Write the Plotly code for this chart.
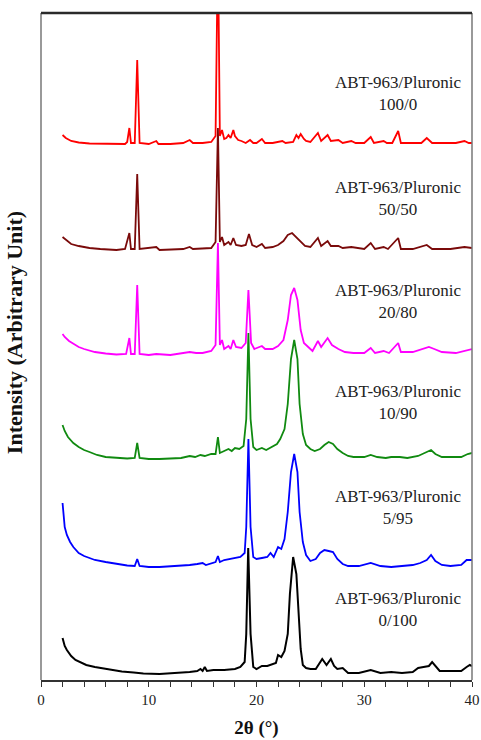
import plotly.graph_objects as go

# ---------------- data (intensity above each pattern's own baseline, arbitrary units) ----------------
labels = ["ABT-963/Pluronic<br>0/100", "ABT-963/Pluronic<br>5/95", "ABT-963/Pluronic<br>10/90",
          "ABT-963/Pluronic<br>20/80", "ABT-963/Pluronic<br>50/50", "ABT-963/Pluronic<br>100/0"]

x_0_100 = [2.0, 2.2, 2.4, 2.8, 3.2, 3.6, 4.2, 5.0, 5.5, 6.5, 7.5, 8.6, 9.5, 11, 12.0, 13.0, 13.8, 14.5, 14.8, 15.0,
           15.2, 15.4, 16.0, 17.0, 18.0, 18.5, 18.9, 19.05, 19.23, 19.45, 19.7, 20.0, 20.5, 21.0, 21.3, 21.8, 22.0,
           22.3, 22.6, 22.9, 23.1, 23.4, 23.7, 23.9, 24.1, 24.3, 24.6, 25.0, 25.5, 26.1, 26.4, 26.5, 26.9, 27.2, 27.5,
           28.0, 28.5, 29.5, 30.6, 31.5, 32.5, 33.5, 34.5, 35.0, 35.5, 36.0, 36.3, 36.6, 37.0, 38.0, 39.0, 39.5, 39.8, 40.0]
y_0_100 = [36, 28, 24, 18, 14, 12, 9, 7, 6, 4, 2.5, 1.5, 0.5, 0, 0.5, 1, 2, 3, 5, 3,
           7, 3, 4, 4, 5, 7, 12, 40, 126, 40, 7, 5, 8, 8, 9, 11, 19,
           17, 23, 40, 80, 117, 100, 60, 25, 9, 6, 5, 5, 15, 11, 9, 15, 8, 5,
           6, 1, 1, 4, 1, 2, 1, 2, 6, 7, 8, 12, 8, 3, 3, 3, 7, 9, 8]

x_5_95 = [2.0, 2.1, 2.2, 2.4, 2.7, 3.0, 3.5, 4.0, 4.5, 5.0, 6.0, 7.0, 8.0, 8.7, 8.93, 9.15, 10.0, 11.0, 12.0, 13.0,
          13.8, 14.5, 15.0, 15.3, 15.8, 16.2, 16.42, 16.6, 17.0, 17.5, 18.0, 18.5, 18.9, 19.05, 19.25, 19.45, 19.7,
          20.0, 20.5, 21.0, 21.3, 21.6, 22.0, 22.3, 22.6, 22.9, 23.2, 23.5, 23.8, 24.0, 24.3, 24.6, 25.0, 25.5, 25.9,
          26.3, 26.7, 27.1, 27.5, 28.0, 28.5, 29.5, 30.6, 31.5, 32.5, 33.5, 34.5, 35.2, 35.8, 36.2, 36.6, 37.2, 38.0,
          39.0, 39.5, 40.0]
y_5_95 = [64, 50, 40, 32, 25, 20, 14, 11, 9, 7, 5, 3, 1.5, 1, 8, 1, 0, 0, 0.5, 1,
          2, 3, 4, 2, 4, 5, 11, 5, 7, 8, 9, 10, 14, 40, 128, 40, 10,
          8, 9, 10, 14, 10, 20, 18, 28, 55, 95, 113, 95, 55, 25, 12, 6, 8, 14,
          17, 16, 15, 8, 3, 1, 1, 4, 1, 0, 1, 2, 4, 7, 12, 6, 2, 1,
          2, 7, 7]

x_10_90 = [2.0, 2.2, 2.5, 3.0, 3.5, 4.0, 4.5, 5.2, 6.0, 7.0, 8.0, 8.7, 8.93, 9.15, 10.0, 11.0, 12.0, 13.0, 13.8, 14.3,
           14.8, 15.2, 15.8, 16.2, 16.42, 16.6, 17.0, 17.4, 17.7, 18.0, 18.4, 18.8, 19.05, 19.25, 19.45, 19.7, 20.0,
           20.5, 20.9, 21.5, 21.9, 22.2, 22.6, 22.9, 23.2, 23.5, 23.8, 24.0, 24.3, 24.6, 25.0, 25.4, 25.9, 26.3, 26.7,
           27.1, 27.5, 28.0, 28.5, 29.0, 30.0, 30.6, 31.2, 32.0, 32.5, 33.3, 34.0, 35.0, 35.6, 36.2, 36.6, 37.2, 38.0,
           39.0, 39.6, 40.0]
y_10_90 = [34, 28, 22, 16, 12, 9, 7, 4, 2, 1, 0.5, 1, 16, 1, 0, 0, 0.5, 1, 3, 2,
           4, 3, 5, 5, 22, 6, 8, 10, 8, 11, 10, 13, 40, 126, 40, 12, 9,
           11, 9, 13, 15, 20, 30, 55, 100, 119, 100, 55, 25, 14, 10, 8, 10, 14, 17,
           15, 10, 6, 3, 2, 2, 4, 2, 1, 2, 2, 1, 3, 6, 9, 5, 2, 2,
           2, 5, 6]

x_20_80 = [2.0, 2.2, 2.6, 3.0, 3.5, 4.0, 5.0, 6.0, 7.0, 7.9, 8.2, 8.35, 8.7, 8.93, 9.15, 10.0, 10.7, 12.0, 13.5, 13.8,
           14.4, 15.0, 15.8, 16.2, 16.42, 16.6, 16.8, 17.0, 17.4, 17.6, 17.85, 18.1, 18.6, 19.0, 19.25, 19.5, 19.8,
           20.5, 20.8, 21.5, 22.0, 22.5, 22.9, 23.2, 23.5, 23.8, 24.1, 24.4, 24.8, 25.2, 25.7, 26.0, 26.6, 27.0, 27.6,
           28.2, 29.0, 30.0, 30.6, 31.0, 31.8, 32.3, 33.15, 33.4, 34.5, 35.5, 36.0, 36.5, 37.2, 38.5, 39.5, 40.0]
y_20_80 = [21, 18, 14, 11, 8, 6, 3, 1.5, 0.5, 1, 17, 1, 1, 70, 1, 0, 1, 0, 2, 3,
           2, 2, 4, 10, 112, 10, 15, 6, 9, 6, 15, 8, 7, 12, 65, 12, 6,
           9, 6, 6, 9, 15, 35, 60, 67, 55, 25, 12, 8, 4, 14, 8, 17, 10, 6,
           3, 2, 2, 7, 2, 4, 2, 12, 3, 3, 6, 8, 6, 3, 2, 5, 6]

x_50_50 = [2.0, 2.3, 2.8, 3.5, 4.5, 5.5, 7.0, 7.8, 8.2, 8.35, 8.7, 8.93, 9.15, 10.7, 11.0, 13.2, 13.8, 14.1, 15.8, 16.2,
           16.42, 16.6, 16.8, 17.0, 17.4, 17.6, 17.85, 18.1, 18.6, 19.0, 19.3, 19.6, 20.0, 20.5, 20.8, 21.5, 22.0,
           22.5, 22.9, 23.3, 23.6, 23.9, 24.2, 24.5, 25.0, 25.7, 26.0, 26.6, 26.9, 27.6, 28.0, 28.8, 30.0, 30.6, 31.0,
           31.8, 32.2, 33.15, 33.4, 34.5, 35.8, 36.3, 38.0, 39.3, 40.0]
y_50_50 = [13, 10, 6, 4, 2, 1, 0, 1, 17, 1, 1, 76, 1, 3, 0, 1, 3, 1, 2, 8,
           122, 8, 13, 5, 8, 5, 12, 5, 4, 5, 16, 5, 3, 6, 2, 3, 5,
           9, 15, 17, 14, 10, 8, 4, 3, 12, 4, 9, 4, 4, 2, 3, 1, 7, 1,
           3, 1, 12, 1, 1, 5, 1, 1, 3, 2]

x_100_0 = [2.0, 2.3, 2.8, 3.5, 4.5, 6.0, 7.8, 8.0, 8.2, 8.35, 8.7, 8.93, 9.15, 10.0, 10.7, 10.9, 12.0, 13.2, 13.8, 14.1,
           15.0, 15.8, 16.2, 16.42, 16.6, 16.8, 17.0, 17.2, 17.4, 17.6, 17.85, 18.0, 18.3, 18.6, 19.0, 19.4, 19.7,
           20.0, 20.5, 20.8, 21.5, 22.4, 22.7, 23.4, 23.7, 23.9, 24.1, 24.4, 24.6, 25.0, 25.7, 26.0, 26.6, 26.9, 27.6,
           28.0, 28.8, 29.2, 30.0, 30.6, 30.9, 31.8, 32.1, 32.6, 33.15, 33.4, 34.5, 35.3, 35.8, 36.3, 37.5, 38.5,
           39.3, 39.7, 40.0]
y_100_0 = [9, 6, 3, 1.5, 0.5, 0, 0, 2, 16, 1, 1, 84, 1, 0, 3, 0, 0, 1, 4, 1,
           1, 2, 8, 200, 8, 14, 5, 6, 9, 6, 14, 8, 4, 3, 1, 4, 1,
           1, 5, 1, 1, 3, 1, 2, 9, 6, 10, 5, 3, 2, 11, 3, 9, 3, 4,
           1, 3, 1, 1, 7, 1, 3, 1, 1, 13, 1, 1, 1, 6, 1, 1, 1,
           3, 1, 1]

series_x = [x_0_100, x_5_95, x_10_90, x_20_80, x_50_50, x_100_0]
series_y = [y_0_100, y_5_95, y_10_90, y_20_80, y_50_50, y_100_0]

# ---------------- presentation ----------------
offsets = [6, 113, 221, 325, 430, 536]
colors = ["#000000", "#0000ff", "#108a10", "#ff00ff", "#7a0a0a", "#ff0000"]
widths = [2.0, 1.8, 1.8, 1.8, 1.8, 1.8]
label_y = [71, 173, 278, 379, 482, 587]
label_x = 33.1
serif = "Liberation Serif, Times New Roman, serif"

fig = go.Figure()
for xs, ys, off, c, w in zip(series_x, series_y, offsets, colors, widths):
    fig.add_trace(go.Scatter(x=xs, y=[v + off for v in ys], mode="lines",
                             line=dict(color=c, width=w), showlegend=False, hoverinfo="skip"))

for lab, ly in zip(labels, label_y):
    fig.add_annotation(x=label_x, y=ly, xref="x", yref="y", text=lab, showarrow=False,
                       font=dict(family=serif, size=17, color="#222222"), align="center")

# y-axis title placed as rotated annotation
fig.add_annotation(x=0, y=0.52, xref="paper", yref="paper", xanchor="center", yanchor="middle",
                   xshift=-27, textangle=-90,
                   text="<b>Intensity (Arbitrary Unit)</b>", showarrow=False,
                   font=dict(family=serif, size=22, color="#111111"))

fig.update_layout(
    width=481, height=740,
    margin=dict(l=41, r=9, t=13, b=60, autoexpand=False),
    paper_bgcolor="white", plot_bgcolor="white",
    font=dict(family=serif, color="#222222"),
    xaxis=dict(range=[0, 40], tickvals=[0, 10, 20, 30, 40], ticks="outside", ticklen=5, tickwidth=1,
               tickcolor="#333333", showgrid=False, zeroline=False, showline=True, linecolor="#333333",
               linewidth=1.5, tickfont=dict(family=serif, size=15, color="#222222"), automargin=False,
               minor=dict(dtick=2, ticks="outside", ticklen=5, tickwidth=1, tickcolor="#333333"),
               title=dict(text="<b>2θ (°)</b>", font=dict(family=serif, size=19, color="#111111"), standoff=14)),
    yaxis=dict(range=[0, 667], showticklabels=False, ticks="", showgrid=False, zeroline=False,
               showline=False, automargin=False),
    shapes=[
        dict(type="line", xref="paper", yref="paper", x0=0, x1=0, y0=0, y1=1, line=dict(color="#777777", width=1.5)),
        dict(type="line", xref="paper", yref="paper", x0=1, x1=1, y0=0, y1=1, line=dict(color="#777777", width=1.5)),
        dict(type="line", xref="paper", yref="paper", x0=0, x1=1, y0=1, y1=1, line=dict(color="#2a2a2a", width=2.5)),
    ],
)

fig.write_html("out.html")
